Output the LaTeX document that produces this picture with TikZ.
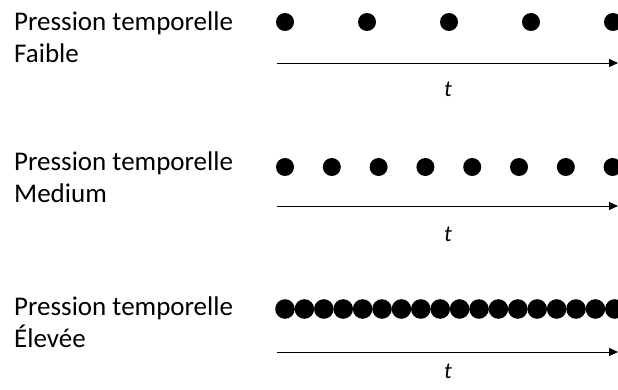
\documentclass[tikz,border=0pt]{standalone}
\usepackage{fontspec}
\setmainfont{Carlito}
\usepackage{tikz}
\usetikzlibrary{arrows.meta}

\begin{document}
\begin{tikzpicture}[x=1pt,y=-1pt,
        punto/.style={circle, fill=black, inner sep=0pt, minimum size=18pt},
        etiqueta/.style={anchor=north west, inner sep=0pt, align=left, font=\fontsize{27}{32}\selectfont},
        tiempo/.style={anchor=base, inner sep=0pt, font=\fontsize{23}{27}\itshape},
        eje/.style={line width=0.9pt, -{Triangle[length=9pt,width=8pt]}}]
        \useasboundingbox (0,0) rectangle (618,390);

        % Faible
        \node[etiqueta] (p1) at (14,12) {Pression temporelle\\Faible};
        \foreach \i in {0,...,4}
            \node[punto] (a\i) at ({285+82*\i},22) {};
        \coordinate (ini1) at (277,63);
        \coordinate (fin1) at (618,63);
        \draw[eje] (ini1) -- (fin1);  % eje del tiempo
        \node[tiempo] (t1) at (448,97) {t};

        % Medium
        \node[etiqueta] (p2) at (14,152) {Pression temporelle\\Medium};
        \foreach \i in {0,...,7}
            \node[punto] (b\i) at ({285+46.8*\i},167) {};
        \coordinate (ini2) at (277,206);
        \coordinate (fin2) at (618,206);
        \draw[eje] (ini2) -- (fin2);
        \node[tiempo] (t2) at (448,241) {t};

        % Elevee
        \node[etiqueta] (p3) at (14,297) {Pression temporelle\\Élevée};
        \foreach \i in {0,...,17}
            \node[punto, minimum size=19.6pt] (c\i) at ({285+19.4*\i},309) {};
        \coordinate (ini3) at (277,352);
        \coordinate (fin3) at (618,352);
        \draw[eje] (ini3) -- (fin3);
        \node[tiempo] (t3) at (448,378) {t};
    \end{tikzpicture}
\end{document}
